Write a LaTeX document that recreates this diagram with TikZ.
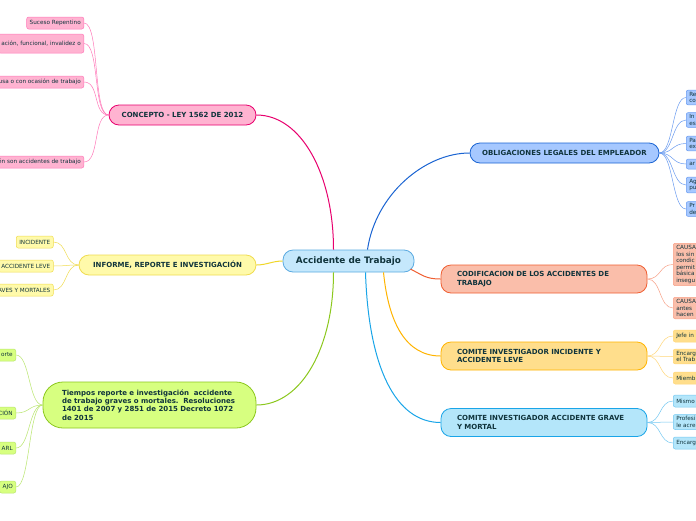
\documentclass[tikz,border=0pt]{standalone}
\usepackage{fontspec}
\setmainfont{DejaVu Sans}
\usetikzlibrary{positioning,calc}
\definecolor{txt}{RGB}{16,52,60}
\definecolor{rootfill}{RGB}{197,232,252}
\definecolor{rootdraw}{RGB}{90,170,225}
\definecolor{pinkfill}{RGB}{255,179,209}
\definecolor{pinkdraw}{RGB}{232,0,110}
\definecolor{pinkleaf}{RGB}{255,120,185}
\definecolor{yelfill}{RGB}{255,250,170}
\definecolor{yeldraw}{RGB}{240,220,80}
\definecolor{yelline}{RGB}{240,215,40}
\definecolor{grnfill}{RGB}{215,255,128}
\definecolor{grndraw}{RGB}{140,200,30}
\definecolor{grnleaf}{RGB}{185,230,110}
\definecolor{blufill}{RGB}{166,200,255}
\definecolor{bludraw}{RGB}{26,100,210}
\definecolor{bluleaf}{RGB}{105,155,240}
\definecolor{orafill}{RGB}{250,190,170}
\definecolor{oradraw}{RGB}{240,95,50}
\definecolor{oraleaf}{RGB}{248,160,135}
\definecolor{ambfill}{RGB}{255,222,140}
\definecolor{ambdraw}{RGB}{255,180,0}
\definecolor{ambleaf}{RGB}{255,215,120}
\definecolor{skyfill}{RGB}{180,230,250}
\definecolor{skydraw}{RGB}{25,165,232}
\definecolor{skyleaf}{RGB}{115,200,242}

\begin{document}
\begin{tikzpicture}[x=1pt,y=-1pt,
    root/.style={draw=rootdraw,fill=rootfill,line width=0.8pt,rounded corners=10pt,minimum width=131pt,minimum height=22pt,font=\fontsize{8.9}{10}\selectfont\bfseries,text=txt},
    branch/.style={line width=0.8pt,rounded corners=10pt,minimum height=20pt,font=\fontsize{7}{8.4}\selectfont\bfseries,text=txt},
    rbranch/.style={branch,text width=174pt,inner xsep=16pt,minimum height=28pt,align=left},
    leaf/.style={line width=0.5pt,rounded corners=2pt,minimum height=12pt,inner xsep=3pt,inner ysep=2pt,font=\fontsize{5.7}{6.6}\selectfont,text=txt},
    lleaf/.style={leaf,anchor=east},
    rleaf/.style={leaf,anchor=west,text width=40pt,align=left}]
  \path[use as bounding box,fill=white] (0,0) rectangle (696,520);
  \clip (0,0) rectangle (696,520);
  % centre
  \node[root] (acc) at (348.5,261) {Accidente de Trabajo};
  % left branches
  \node[branch,draw=pinkdraw,fill=pinkfill,minimum width=147pt] (con) at (182.5,115) {CONCEPTO - LEY 1562 DE 2012};
  \node[branch,draw=yeldraw,fill=yelfill,minimum width=177pt] (inf) at (167.5,265) {INFORME, REPORTE E INVESTIGACIÓN};
  \node[branch,draw=grndraw,fill=grnfill,rounded corners=20pt,text width=175pt,inner xsep=19pt,minimum height=46pt,align=left] (tie) at (149.5,405)
    {Tiempos reporte e investigación\ \ accidente\\de trabajo graves o mortales.\ \ Resoluciones\\1401 de 2007 y 2851 de 2015 Decreto 1072\\de 2015};
  % right branches
  \node[branch,draw=bludraw,fill=blufill,minimum width=189pt] (obl) at (564.5,153) {OBLIGACIONES LEGALES DEL EMPLEADOR};
  \node[rbranch,draw=oradraw,fill=orafill] (cod) at (544,279) {CODIFICACION DE LOS ACCIDENTES DE\\TRABAJO};
  \node[rbranch,draw=ambdraw,fill=ambfill] (cil) at (544,356) {COMITE INVESTIGADOR INCIDENTE Y\\ACCIDENTE LEVE};
  \node[rbranch,draw=skydraw,fill=skyfill] (cig) at (544,422.5) {COMITE INVESTIGADOR ACCIDENTE GRAVE\\Y MORTAL};
  % main connectors
  \draw[line width=1pt,pinkdraw] ($(acc.north)+(-15,0)$) .. controls +(0,-75) and +(45,0) .. (con.east);
  \draw[line width=1pt,yelline] (acc.west) .. controls +(-10,0) and +(10,0) .. (inf.east);
  \draw[line width=1pt,grndraw] ($(acc.south)+(-15,0)$) .. controls +(0,75) and +(45,0) .. (tie.east);
  \draw[line width=1pt,bludraw] ($(acc.north)+(19,0)$) .. controls +(8,-55) and +(-45,0) .. (obl.west);
  \draw[line width=1pt,oradraw] ($(acc.east)+(-4,8)$) .. controls +(12,6) and +(-15,0) .. (cod.west);
  \draw[line width=1pt,ambdraw] ($(acc.south)+(35,0)$) .. controls +(5,50) and +(-35,0) .. (cil.west);
  \draw[line width=1pt,skydraw] ($(acc.south)+(17,0)$) .. controls +(3,95) and +(-45,0) .. (cig.west);
  % concepto leaves
  \node[lleaf,draw=pinkleaf,fill=pinkfill] (con1) at (84,23) {Suceso Repentino};
  \node[lleaf,draw=pinkleaf,fill=pinkfill,minimum height=19pt] (con2) at (84,43.5) {ación, funcional, invalidez o};
  \node[lleaf,draw=pinkleaf,fill=pinkfill] (con3) at (84,82) {usa o con ocasión de trabajo};
  \node[lleaf,draw=pinkleaf,fill=pinkfill] (con4) at (84,162) {én son accidentes de trabajo};
  \foreach \l in {con1,con2,con3,con4}
    \draw[line width=0.5pt,pinkleaf] (con.west) .. controls +(-16,0) and +(16,0) .. (\l.east);
  % informe leaves
  \node[lleaf,draw=yeldraw,fill=yelfill] (inf1) at (53.5,242) {INCIDENTE};
  \node[lleaf,draw=yeldraw,fill=yelfill] (inf2) at (53.5,266) {ACCIDENTE LEVE};
  \node[lleaf,draw=yeldraw,fill=yelfill] (inf3) at (53.5,290) {AVES Y MORTALES};
  \foreach \l in {inf1,inf2,inf3}
    \draw[line width=0.5pt,yeldraw] (inf.west) .. controls +(-14,0) and +(14,0) .. (\l.east);
  % tiempos leaves
  \node[lleaf,draw=grnleaf,fill=grnfill] (tie1) at (16,355) {orte};
  \node[lleaf,draw=grnleaf,fill=grnfill] (tie2) at (16,413) {CIÓN};
  \node[lleaf,draw=grnleaf,fill=grnfill] (tie3) at (16,448) {ARL};
  \node[lleaf,draw=grnleaf,fill=grnfill] (tie4) at (16,487) {AJO};
  \foreach \l in {tie1,tie2,tie3,tie4}
    \draw[line width=0.5pt,grnleaf] (tie.west) .. controls +(-14,0) and +(14,0) .. (\l.east);
  % obligaciones leaves
  \node[rleaf,draw=bluleaf,fill=blufill] (obl1) at (686,97.5) {Re\\co};
  \node[rleaf,draw=bluleaf,fill=blufill] (obl2) at (686,120) {In\\es};
  \node[rleaf,draw=bluleaf,fill=blufill] (obl3) at (686,143.5) {Pa\\ex};
  \node[rleaf,draw=bluleaf,fill=blufill,minimum height=10pt] (obl4) at (686,164) {ar};
  \node[rleaf,draw=bluleaf,fill=blufill] (obl5) at (686,185) {Ag\\pu};
  \node[rleaf,draw=bluleaf,fill=blufill] (obl6) at (686,209) {Pr\\de};
  \foreach \l in {obl1,obl2,obl3,obl4,obl5,obl6}
    \draw[line width=0.5pt,bluleaf] (obl.east) .. controls +(14,0) and +(-14,0) .. (\l.west);
  % codificacion leaves
  \node[rleaf,draw=oraleaf,fill=orafill] (cod1) at (673,264.5) {CAUSA\\los sin\\condic\\permit\\básica\\insegu};
  \node[rleaf,draw=oraleaf,fill=orafill] (cod2) at (673,308) {CAUSA\\antes\\hacen};
  \foreach \l in {cod1,cod2}
    \draw[line width=0.5pt,oraleaf] (cod.east) .. controls +(14,0) and +(-14,0) .. (\l.west);
  % comite leve leaves
  \node[rleaf,draw=ambleaf,fill=ambfill] (cil1) at (673,336) {Jefe in};
  \node[rleaf,draw=ambleaf,fill=ambfill] (cil2) at (673,356.5) {Encarg\\el Trab};
  \node[rleaf,draw=ambleaf,fill=ambfill] (cil3) at (673,378) {Miemb};
  \foreach \l in {cil1,cil2,cil3}
    \draw[line width=0.5pt,ambleaf] (cil.east) .. controls +(14,0) and +(-14,0) .. (\l.west);
  % comite grave leaves
  \node[rleaf,draw=skyleaf,fill=skyfill] (cig1) at (673,401) {Mismo};
  \node[rleaf,draw=skyleaf,fill=skyfill] (cig2) at (673,422) {Profesi\\le acre};
  \node[rleaf,draw=skyleaf,fill=skyfill] (cig3) at (673,443) {Encarg};
  \foreach \l in {cig1,cig2,cig3}
    \draw[line width=0.5pt,skyleaf] (cig.east) .. controls +(14,0) and +(-14,0) .. (\l.west);
\end{tikzpicture}
\end{document}
